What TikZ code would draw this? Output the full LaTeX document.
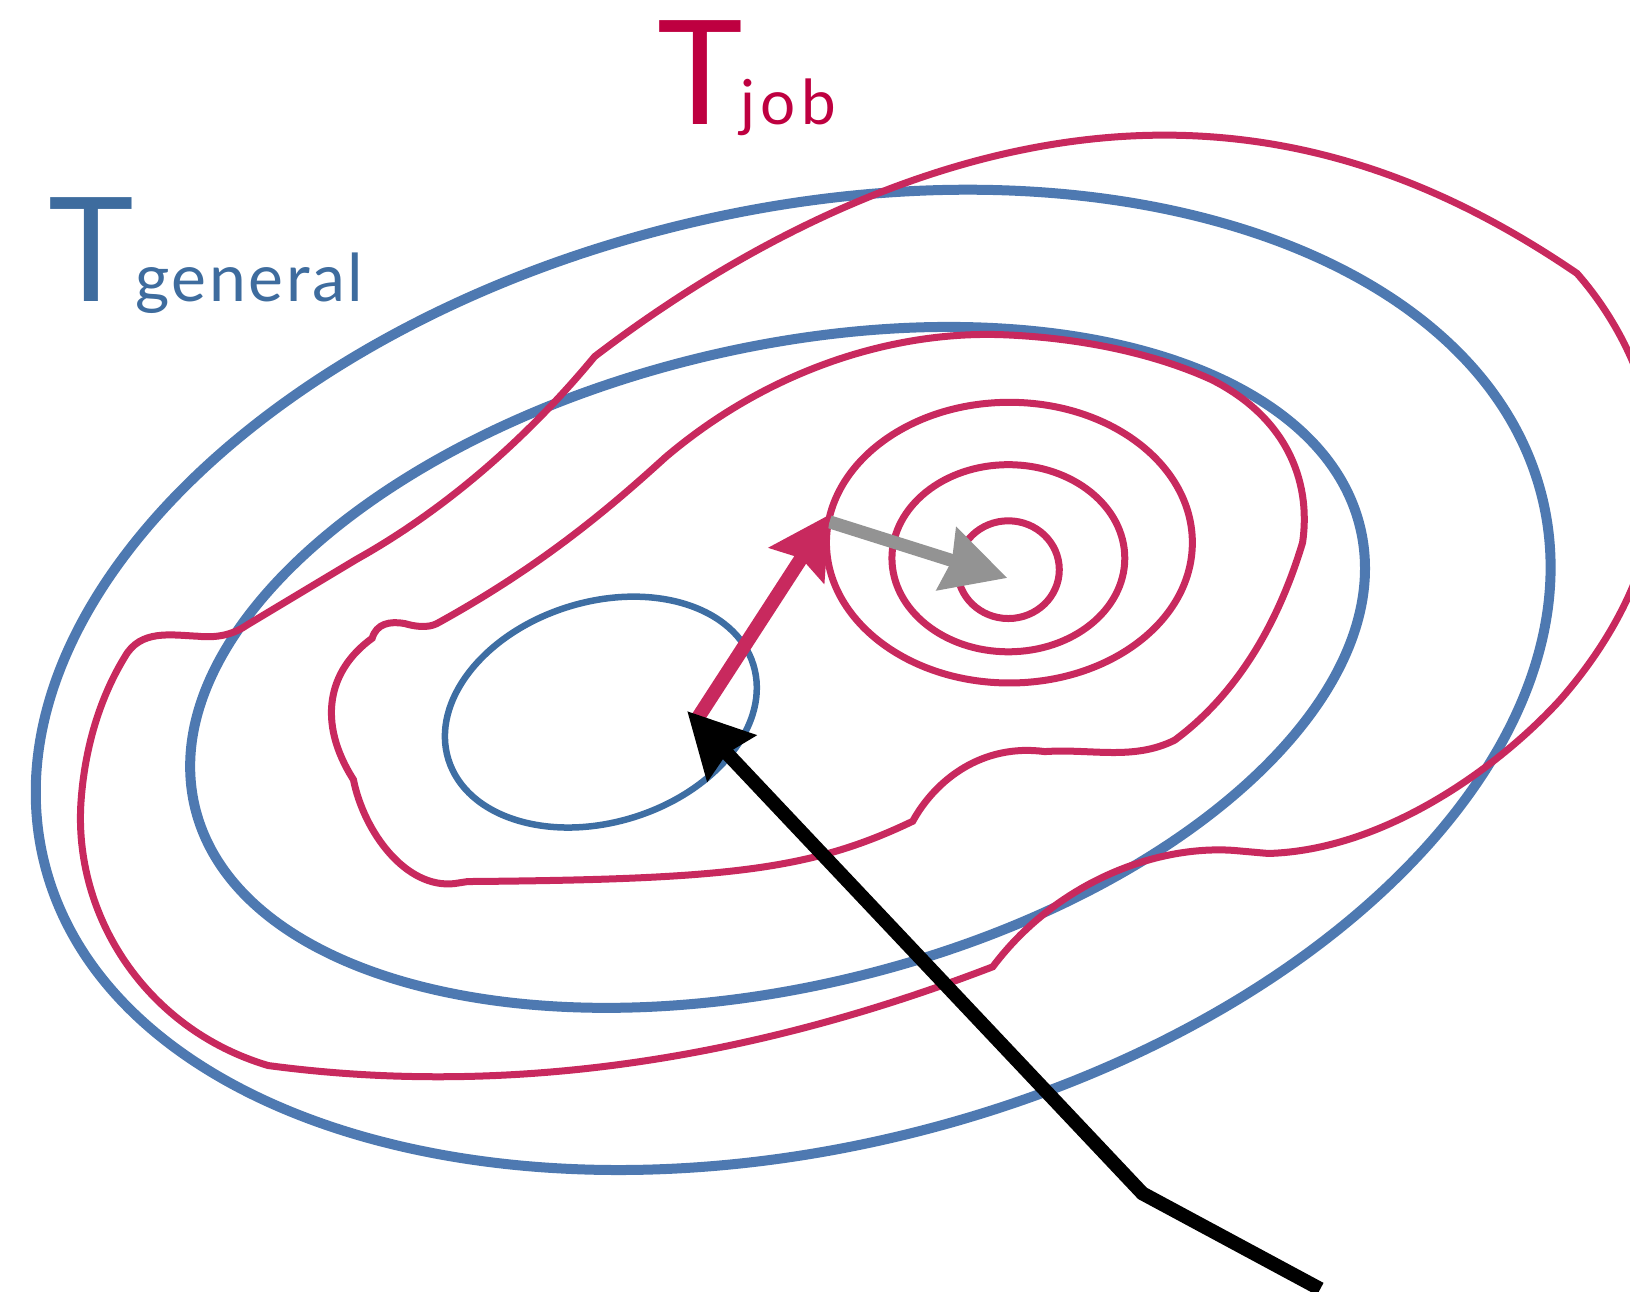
\documentclass[tikz,border=0pt]{standalone}
\usepackage{fontspec}
\setmainfont{Lato}
\usetikzlibrary{arrows.meta}
\definecolor{redc}{RGB}{200,41,94}
\definecolor{bluec}{RGB}{78,121,177}
\definecolor{bluesc}{RGB}{62,110,163}
\definecolor{greyc}{RGB}{147,147,147}
\definecolor{tjobc}{RGB}{190,0,64}
\definecolor{tgenc}{RGB}{62,108,158}
\begin{document}
\begin{tikzpicture}[x=1.0395pt,y=-1.0395pt,
  bluethick/.style={draw=bluec,line width=10pt},
  bluethin/.style={draw=bluesc,line width=6.5pt},
  redline/.style={draw=redc,line width=7pt,line join=miter},
  bigtext/.style={anchor=base west,inner sep=0pt,font=\fontsize{145}{145}\selectfont},
  subtext/.style={anchor=base west,inner sep=0pt},
  redarrow/.style={draw=redc,line width=14pt,-{Stealth[length=60pt,width=64pt,inset=8pt]}},
  greyarrow/.style={draw=greyc,line width=13pt,-{Stealth[length=63pt,width=64pt,inset=5pt]}},
  blackarrow/.style={draw=black,line width=14pt,-{Stealth[length=64pt,width=65pt,inset=6pt]}}]
\useasboundingbox (0,0) rectangle (1568,1242);
\begin{scope}
\clip (0,0) rectangle (1568,1242);
% blue contours
\draw[bluethick, rotate around={13.6:(763,654)}] (763,654) ellipse [x radius=741.6, y radius=450.6];
\draw[bluethick, rotate around={13.5:(748,642)}] (748,642) ellipse [x radius=576.4, y radius=307.0];
\draw[bluethin, rotate around={17.3:(578,685)}] (578,685) ellipse [x radius=153.6, y radius=106.0];
% outer red contour
\draw[redline] (238,601) -- (343,538)
  .. controls (420,495) and (500,430) .. (572,343)
  .. controls (700,245) and (900,130) .. (1120,130)
  .. controls (1280,130) and (1410,190) .. (1517,263)
  .. controls (1560,312) and (1592,380) .. (1594,450)
  .. controls (1596,520) and (1565,600) .. (1501,673)
  .. controls (1440,740) and (1330,818) .. (1220,821)
  -- (1186,818)
  .. controls (1110,813) and (1015,850) .. (955,930)
  .. controls (760,1005) and (520,1060) .. (258,1025)
  .. controls (140,990) and (70,880) .. (78,770)
  .. controls (82,715) and (98,668) .. (120,632)
  .. controls (135,605) and (165,611) .. (190,612)
  .. controls (210,614) and (225,610) .. (238,601) -- cycle;
% blob contour
\draw[redline] (420,600) .. controls (520,545) and (585,490) .. (640,440)
  .. controls (740,355) and (860,318) .. (965,322)
  .. controls (1040,325) and (1110,340) .. (1165,365)
  .. controls (1235,400) and (1262,460) .. (1253,522)
  .. controls (1225,615) and (1180,675) .. (1130,712)
  .. controls (1090,732) and (1050,720) .. (1005,723)
  .. controls (945,715) and (900,750) .. (878,790)
  .. controls (780,837) and (700,846) .. (450,848)
  -- (437,850)
  .. controls (390,855) and (350,800) .. (340,750)
  .. controls (305,695) and (315,645) .. (358,614)
  .. controls (362,600) and (375,597) .. (390,600)
  .. controls (400,603) and (412,604) .. (420,600) -- cycle;
% inner red ellipses
\draw[redline] (971,522) ellipse [x radius=176, y radius=135];
\draw[redline] (970,537) ellipse [x radius=112, y radius=90];
\draw[redline] (970,548) ellipse [x radius=49, y radius=47];
% arrows
\coordinate (ga) at (798,502);
\coordinate (gb) at (969,556);
\coordinate (ra) at (671,691);
\coordinate (rb) at (798,495);
\coordinate (ka) at (1270,1240);
\coordinate (kc) at (1099,1148);
\coordinate (kb) at (661,684);
\draw[greyarrow] (ga) -- (gb);
\draw[redarrow] (ra) -- (rb);
\draw[blackarrow] (ka) -- (kc) -- (kb);
\end{scope}
% labels
\node[bigtext,text=tjobc] (Tjob) at (632,120) {T};
\node[subtext,text=tjobc,font={\fontsize{62}{62}\selectfont\addfontfeatures{LetterSpace=9}}] (job) at (712,120) {job};
\node[bigtext,text=tgenc] (Tgen) at (46,290) {T};
\node[subtext,text=tgenc,font={\fontsize{66}{66}\selectfont\addfontfeatures{LetterSpace=4}}] (gen) at (130,290) {general};
\end{tikzpicture}
\end{document}
